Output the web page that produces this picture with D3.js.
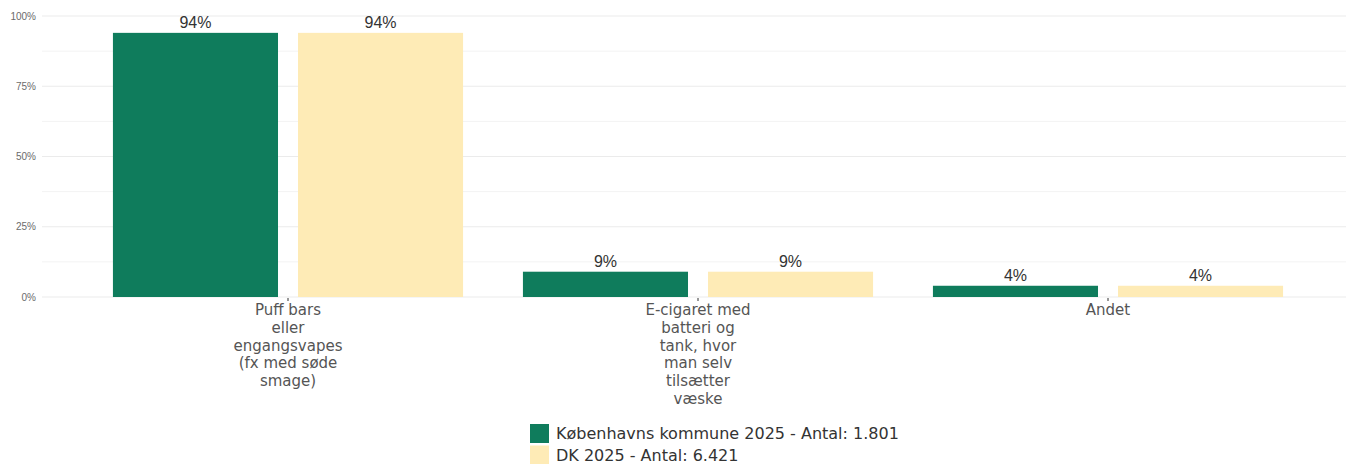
<!DOCTYPE html>
<html>
<head>
<meta charset="utf-8">
<script src="https://cdn.jsdelivr.net/npm/d3@7"></script>
<style>
  html, body { margin: 0; padding: 0; background: #fff; }
  svg { display: block; }
</style>
</head>
<body>
<svg id="chart" width="1346" height="464"></svg>
<script>
// Data
const categories = [
  "Puff bars eller engangsvapes (fx med søde smage)",
  "E-cigaret med batteri og tank, hvor man selv tilsætter væske",
  "Andet"
];
const seriesNames = [
  "Københavns kommune 2025 - Antal: 1.801",
  "DK 2025 - Antal: 6.421"
];
const kbhValues = [94, 9, 4];
const dkValues = [94, 9, 4];
const yTicks = [0, 25, 50, 75, 100];
const yMinorTicks = [12.5, 37.5, 62.5, 87.5];
const colors = ["#0f7c5c", "#feebb6"];

const seriesValues = [kbhValues, dkValues];
const labelFont = "'DejaVu Sans', Verdana, sans-serif";

const svg = d3.select("#chart");
const plot = { left: 42, right: 1346, top: 16, bottom: 297 };

const y = d3.scaleLinear().domain([0, 100]).range([plot.bottom, plot.top]);

const x0 = d3.scaleBand()
  .domain(categories)
  .range([83, 1313])
  .paddingInner(0.146)
  .paddingOuter(0.073);

const x1 = d3.scaleBand()
  .domain(seriesNames)
  .range([0, x0.bandwidth()])
  .paddingInner(0.108)
  .paddingOuter(0);

// Gridlines
svg.append("g").selectAll("line.minor")
  .data(yMinorTicks).join("line")
  .attr("x1", plot.left).attr("x2", plot.right)
  .attr("y1", d => y(d)).attr("y2", d => y(d))
  .attr("stroke", "#f3f3f3").attr("stroke-width", 1);

svg.append("g").selectAll("line.major")
  .data(yTicks).join("line")
  .attr("x1", plot.left).attr("x2", plot.right)
  .attr("y1", d => y(d)).attr("y2", d => y(d))
  .attr("stroke", "#ebebeb").attr("stroke-width", 1);

// Y axis labels
const yAxis = d3.axisLeft(y).tickValues(yTicks).tickFormat(d => d + "%").tickSize(0).tickPadding(6);
const yg = svg.append("g").attr("transform", `translate(${plot.left},0)`).call(yAxis);
yg.select(".domain").remove();
yg.selectAll("text")
  .attr("fill", "#6b6b6b")
  .style("font-family", "'Liberation Sans', Arial, sans-serif")
  .style("font-size", "10px");

// Bars
const rows = [];
categories.forEach((c, i) => {
  seriesNames.forEach((s, j) => {
    rows.push({ cat: c, series: s, value: seriesValues[j][i], color: colors[j] });
  });
});

const bars = svg.append("g");
bars.selectAll("rect").data(rows).join("rect")
  .attr("x", d => x0(d.cat) + x1(d.series))
  .attr("y", d => y(d.value))
  .attr("width", x1.bandwidth())
  .attr("height", d => y(0) - y(d.value))
  .attr("fill", d => d.color);

// Value labels
bars.selectAll("text").data(rows).join("text")
  .attr("x", d => x0(d.cat) + x1(d.series) + x1.bandwidth() / 2)
  .attr("y", d => y(d.value) - 5)
  .attr("text-anchor", "middle")
  .attr("fill", "#333")
  .style("font-family", "'Liberation Sans', Arial, sans-serif")
  .style("font-size", "16px")
  .text(d => d.value + "%");

// X axis ticks and wrapped category labels
function wrap(str, width) {
  const words = str.split(" ");
  const lines = [];
  let cur = "";
  words.forEach(w => {
    if (cur === "") cur = w;
    else if ((cur + " " + w).length <= width) cur += " " + w;
    else { lines.push(cur); cur = w; }
  });
  if (cur) lines.push(cur);
  return lines;
}

const xAxis = d3.axisBottom(x0).tickSize(3).tickSizeOuter(0).tickPadding(0).tickFormat("");
const xg = svg.append("g").attr("transform", `translate(0,${plot.bottom + 1})`).call(xAxis);
xg.select(".domain").remove();
xg.selectAll(".tick line").attr("stroke", "#333");

xg.selectAll(".tick").each(function (d) {
  const t = d3.select(this).append("text")
    .attr("text-anchor", "middle")
    .attr("fill", "#555")
    .style("font-family", labelFont)
    .style("font-size", "15px");
  wrap(d, 13).forEach((line, i) => {
    t.append("tspan").attr("x", 0).attr("y", 17 + i * 17.8).text(line);
  });
});

// Legend
const legend = svg.append("g").attr("transform", "translate(530,424)");
seriesNames.forEach((s, i) => {
  const g = legend.append("g").attr("transform", `translate(0,${i * 21.5})`);
  g.append("rect").attr("width", 19).attr("height", 19).attr("fill", colors[i]);
  g.append("text")
    .attr("x", 26).attr("y", 15)
    .attr("fill", "#333")
    .style("font-family", labelFont)
    .style("font-size", "16px")
    .text(s);
});
</script>
</body>
</html>
